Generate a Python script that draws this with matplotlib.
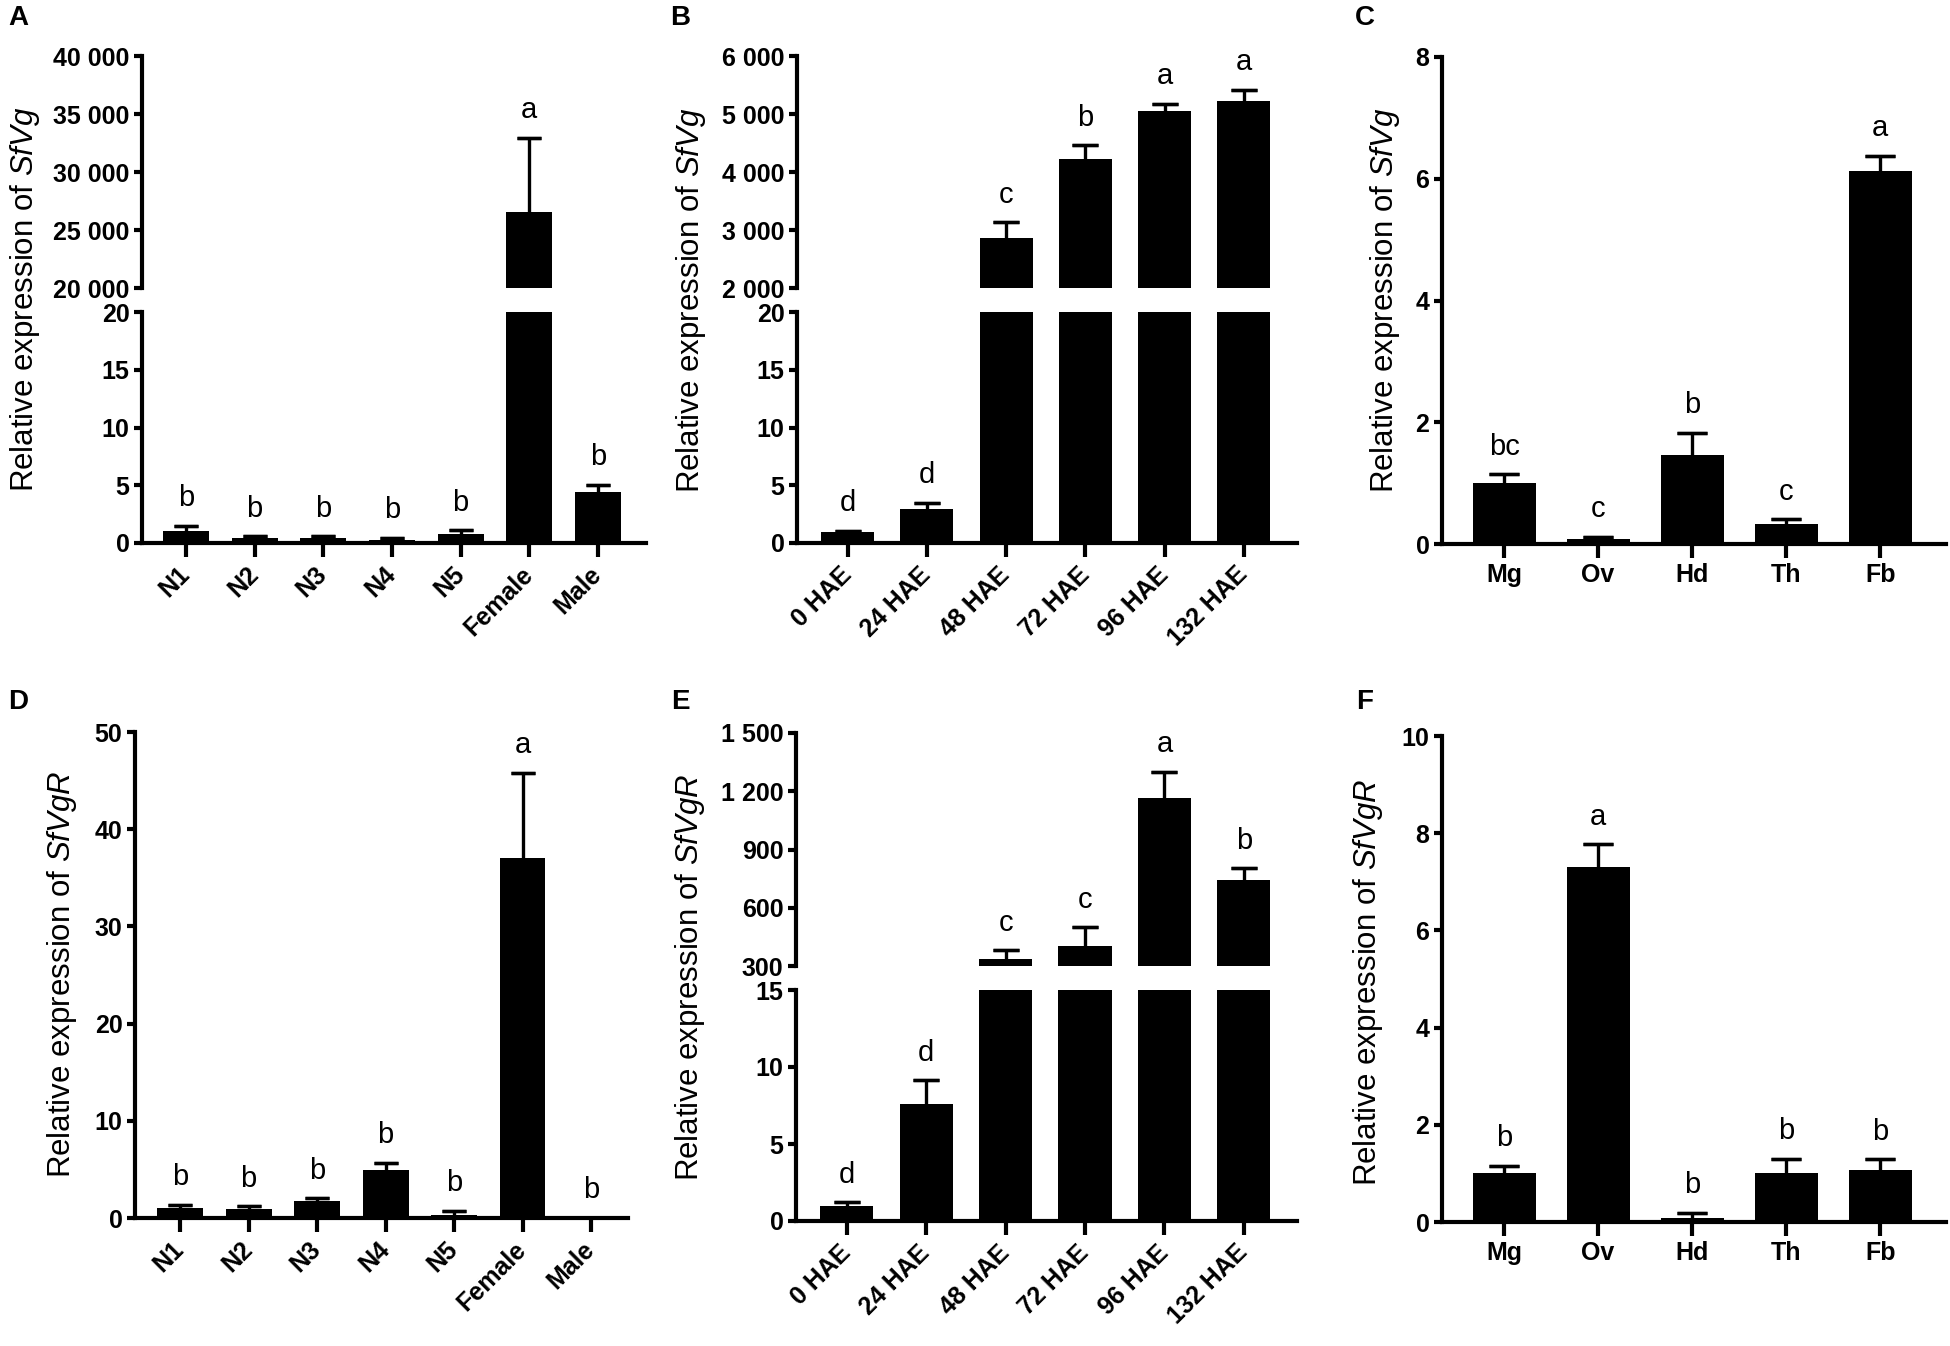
import matplotlib.pyplot as plt
import numpy as np
from matplotlib.ticker import FuncFormatter

plt.rcParams['font.family'] = ['Liberation Sans', 'DejaVu Sans']
plt.rcParams['mathtext.fontset'] = 'custom'
plt.rcParams['mathtext.rm'] = 'Liberation Sans'
plt.rcParams['mathtext.it'] = 'Liberation Sans:italic'

# ---- data ----
stage_labels = ['N1', 'N2', 'N3', 'N4', 'N5', 'Female', 'Male']
hae_labels = ['0 HAE', '24 HAE', '48 HAE', '72 HAE', '96 HAE', '132 HAE']
tissue_labels = ['Mg', 'Ov', 'Hd', 'Th', 'Fb']

# A: SfVg by stage
vg_stage = [1.0, 0.45, 0.45, 0.3, 0.8, 26550, 4.45]
vg_stage_err = [0.5, 0.15, 0.15, 0.15, 0.3, 6400, 0.6]
vg_stage_sig = ['b', 'b', 'b', 'b', 'b', 'a', 'b']

# B: SfVg after eclosion
vg_hae = [0.95, 2.95, 2870, 4220, 5060, 5230]
vg_hae_err = [0.1, 0.55, 260, 240, 120, 185]
vg_hae_sig = ['d', 'd', 'c', 'b', 'a', 'a']

# C: SfVg by tissue
vg_tissue = [1.01, 0.08, 1.47, 0.33, 6.12]
vg_tissue_err = [0.14, 0.04, 0.36, 0.08, 0.26]
vg_tissue_sig = ['bc', 'c', 'b', 'c', 'a']

# D: SfVgR by stage
vgr_stage = [0.99, 0.9, 1.72, 4.9, 0.34, 37.0, 0.02]
vgr_stage_err = [0.38, 0.3, 0.3, 0.8, 0.43, 8.8, 0.0]
vgr_stage_sig = ['b', 'b', 'b', 'b', 'b', 'a', 'b']

# E: SfVgR after eclosion
vgr_hae = [1.0, 7.57, 336, 403, 1164, 741]
vgr_hae_err = [0.22, 1.57, 45, 98, 137, 63]
vgr_hae_sig = ['d', 'd', 'c', 'c', 'a', 'b']

# F: SfVgR by tissue
vgr_tissue = [1.0, 7.3, 0.09, 1.0, 1.06]
vgr_tissue_err = [0.16, 0.47, 0.1, 0.3, 0.23]
vgr_tissue_sig = ['b', 'a', 'b', 'b', 'b']

W, H = 1950, 1346
fig = plt.figure(figsize=(19.5, 13.46), dpi=100)


def frac(left, right, bottom, top):
    # pixel box -> figure fraction rect
    return [left / W, 1 - bottom / H, (right - left) / W, (bottom - top) / H]


def sep_fmt(v, pos):
    return f"{v:,.0f}".replace(",", " ")


def style_axis(ax, show_x):
    ax.spines['top'].set_visible(False)
    ax.spines['right'].set_visible(False)
    ax.spines['left'].set_linewidth(3)
    ax.spines['bottom'].set_linewidth(3)
    ax.tick_params(axis='y', length=6, width=3, labelsize=18, pad=3)
    ax.yaxis.set_major_formatter(FuncFormatter(sep_fmt))
    if show_x:
        ax.tick_params(axis='x', length=10, width=3, labelsize=18, pad=4)
    else:
        ax.spines['bottom'].set_visible(False)
        ax.tick_params(axis='x', bottom=False, labelbottom=False)
    for lab in ax.get_yticklabels():
        lab.set_fontweight('bold')


def draw_bars(ax, vals, errs, sig, capsize):
    x = np.arange(len(vals))
    tops = np.array(vals) + np.array(errs)
    ax.bar(x, vals, width=0.67, color='black', zorder=2)
    # upper half error bars only: stem + cap at the top
    ax.vlines(x, vals, tops, color='black', linewidth=2.4, zorder=3)
    ax.errorbar(x, tops, yerr=np.zeros(len(vals)), fmt='none', ecolor='black',
                elinewidth=0, capsize=capsize, capthick=2.4, zorder=3)
    lo, hi = ax.get_ylim()
    for xi, t, s in zip(x, tops, sig):
        if lo <= t <= hi:
            ax.annotate(s, (xi, t), xytext=(0, 14), textcoords='offset points',
                        ha='center', va='baseline', fontsize=21)


def set_xlabels(ax, labels, rotate):
    ax.set_xticks(np.arange(len(labels)))
    if rotate:
        ax.set_xticklabels(labels, rotation=45, ha='right', va='center',
                           rotation_mode='anchor', fontweight='bold', fontsize=18)
        ax.tick_params(axis='x', pad=10)
    else:
        ax.set_xticklabels(labels, fontweight='bold', fontsize=18)


def simple_panel(rect, vals, errs, sig, labels, ylim, yticks, xlim, capsize, rotate):
    ax = fig.add_axes(rect)
    ax.set_ylim(*ylim)
    ax.set_xlim(*xlim)
    ax.set_yticks(yticks)
    style_axis(ax, True)
    draw_bars(ax, vals, errs, sig, capsize)
    ax.set_ylim(*ylim)
    set_xlabels(ax, labels, rotate)
    return ax


def broken_panel(rect_top, rect_bot, vals, errs, sig, labels,
                 ylim_top, yticks_top, ylim_bot, yticks_bot, xlim, capsize):
    ax_t = fig.add_axes(rect_top)
    ax_b = fig.add_axes(rect_bot)
    for ax, yl, yt, show in [(ax_t, ylim_top, yticks_top, False),
                             (ax_b, ylim_bot, yticks_bot, True)]:
        ax.set_ylim(*yl)
        ax.set_xlim(*xlim)
        ax.set_yticks(yt)
        style_axis(ax, show)
        draw_bars(ax, vals, errs, sig, capsize)
        ax.set_ylim(*yl)
    set_xlabels(ax_b, labels, True)
    return ax_t, ax_b


# A
broken_panel(frac(142, 646, 288, 56), frac(142, 646, 543, 312),
             vg_stage, vg_stage_err, vg_stage_sig, stage_labels,
             (20000, 40000), [20000, 25000, 30000, 35000, 40000],
             (0, 20), [0, 5, 10, 15, 20], (-0.64, 6.7), 8.5)
# B
broken_panel(frac(797, 1297, 288, 56), frac(797, 1297, 543, 312),
             vg_hae, vg_hae_err, vg_hae_sig, hae_labels,
             (2000, 6000), [2000, 3000, 4000, 5000, 6000],
             (0, 20), [0, 5, 10, 15, 20], (-0.64, 5.67), 9.5)
# C
simple_panel(frac(1442, 1946, 544, 57), vg_tissue, vg_tissue_err, vg_tissue_sig,
             tissue_labels, (0, 8), [0, 2, 4, 6, 8], (-0.66, 4.7), 11, False)
# D
simple_panel(frac(135, 628, 1218, 732), vgr_stage, vgr_stage_err, vgr_stage_sig,
             stage_labels, (0, 50), [0, 10, 20, 30, 40, 50], (-0.66, 6.54), 8.5, True)
# E
broken_panel(frac(796, 1297, 966, 733), frac(796, 1297, 1221, 990),
             vgr_hae, vgr_hae_err, vgr_hae_sig, hae_labels,
             (300, 1500), [300, 600, 900, 1200, 1500],
             (0, 15), [0, 5, 10, 15], (-0.64, 5.67), 9.5)
# F
simple_panel(frac(1442, 1946, 1222, 736), vgr_tissue, vgr_tissue_err, vgr_tissue_sig,
             tissue_labels, (0, 10), [0, 2, 4, 6, 8, 10], (-0.66, 4.7), 11, False)

# y labels
ylabels = [
    (25, 299, r'Relative expression of $\it{SfVg}$'),
    (691, 300, r'Relative expression of $\it{SfVg}$'),
    (1385, 300, r'Relative expression of $\it{SfVg}$'),
    (62, 974, r'Relative expression of $\it{SfVgR}$'),
    (690, 977, r'Relative expression of $\it{SfVgR}$'),
    (1368, 982, r'Relative expression of $\it{SfVgR}$'),
]
for px, py, txt in ylabels:
    fig.text(px / W, 1 - py / H, txt, rotation=90, ha='center', va='center', fontsize=22.5)

# panel letters
for px, py, letter in [(18, 18, 'A'), (680, 18, 'B'), (1365, 18, 'C'),
                       (18, 702, 'D'), (680, 702, 'E'), (1365, 702, 'F')]:
    fig.text(px / W, 1 - py / H, letter, ha='center', va='center',
             fontsize=20, fontweight='bold')

fig.savefig('out.png', dpi=100, facecolor='white')
